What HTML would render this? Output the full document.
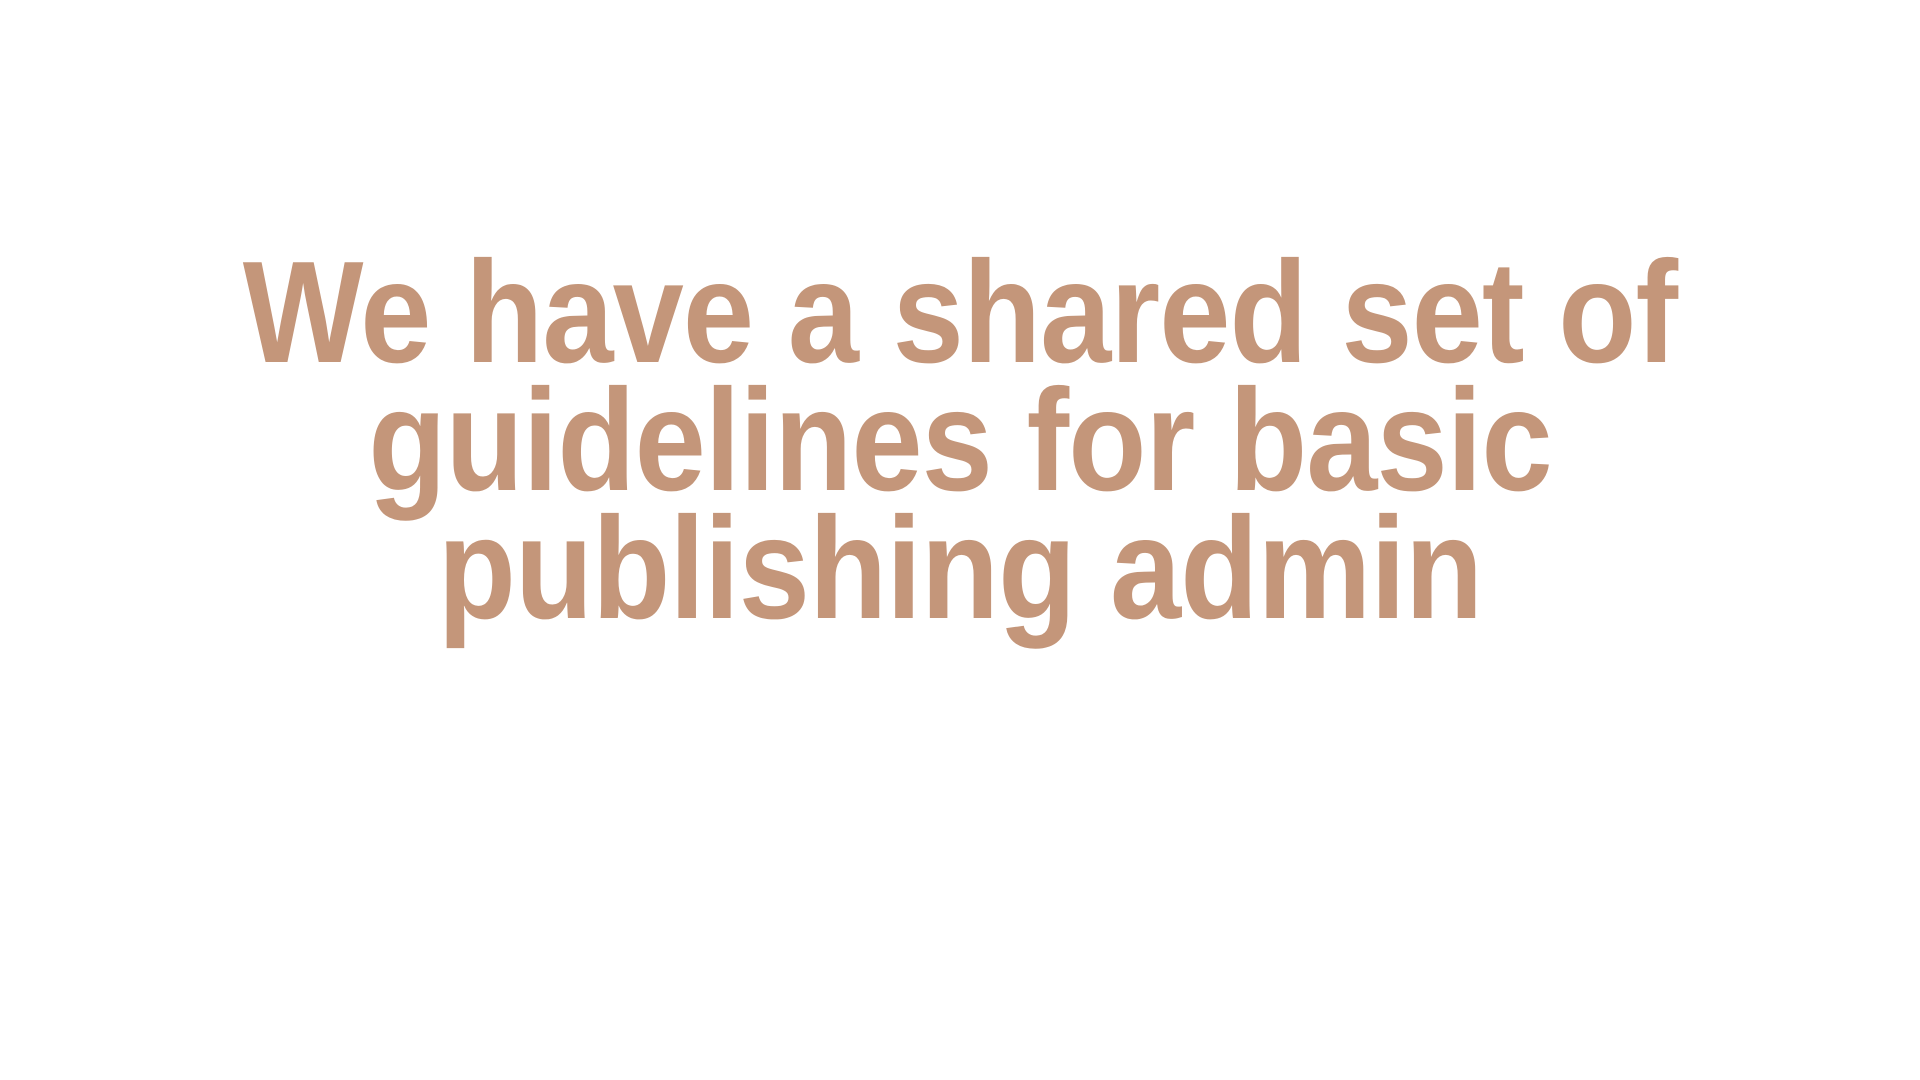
<!DOCTYPE html>
<html>
<head>
<meta charset="utf-8">
<style>
  html, body { margin:0; padding:0; width:1920px; height:1080px; background:#ffffff; overflow:hidden; }
  .line {
    position:absolute; left:0; width:1920px; text-align:center;
    font-family:"Liberation Sans", Arial, sans-serif; font-weight:bold;
    font-size:145px; line-height:145px; color:#C4967A; white-space:nowrap;
    letter-spacing:-1px; transform:scaleX(0.882); transform-origin:960px 50%;
  }
</style>
</head>
<body>
  <div class="line" style="top:240px;">We have a shared set of</div>
  <div class="line" style="top:368px;">guidelines for basic</div>
  <div class="line" style="top:496px;">publishing admin</div>
</body>
</html>
